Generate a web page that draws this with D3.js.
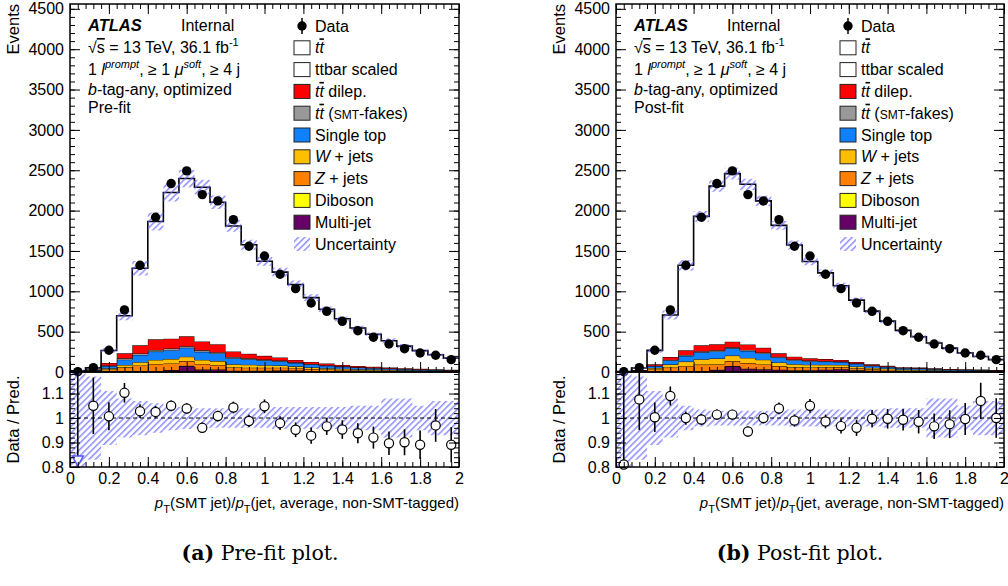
<!DOCTYPE html>
<html>
<head>
<meta charset="utf-8">
<script src="https://cdn.jsdelivr.net/npm/d3@7"></script>
<style>
  body { margin: 0; background: #fff; }
  svg text { font-family: "Liberation Sans", Arial, Helvetica, sans-serif; fill: #000; }
</style>
</head>
<body>
<svg id="chart" width="1008" height="586"></svg>
<script>
// ---------- binning: 25 bins of width 0.08 on [0, 2] ----------
const binLow = [0, 0.08, 0.16, 0.24, 0.32, 0.40, 0.48, 0.56, 0.64, 0.72, 0.80, 0.88, 0.96,
                1.04, 1.12, 1.20, 1.28, 1.36, 1.44, 1.52, 1.60, 1.68, 1.76, 1.84, 1.92];
const binWidth = 0.08;

// ---------- observed data (same in both fits) ----------
const dataCounts = [4, 54, 269, 769, 1322, 1917, 2335, 2492, 2198, 2120, 1888, 1558, 1438,
                    1211, 1033, 855, 752, 628, 512, 430, 347, 289, 236, 207, 153];

// ---------- pre-fit prediction ----------
const ttPre    = [13, 16, 155, 466, 956, 1460, 1811, 1956, 1912, 1758, 1555, 1352, 1172,
                  1057, 935, 796, 673, 571, 471, 402, 332, 273, 225, 179, 143];
const dilepPre = [0, 8, 30, 62, 100, 132, 122, 124, 110, 100, 70, 55, 45, 38, 30, 26, 22, 18, 15, 13, 11, 10, 8, 7, 6];
const fakesPre = [0, 3, 8, 16, 18, 20, 20, 17, 18, 15, 14, 12, 10, 9, 8, 7, 6, 5, 5, 4, 4, 3, 3, 2, 2];
const stopPre  = [1, 9, 28, 66, 90, 103, 110, 112, 100, 95, 75, 68, 60, 52, 42, 36, 30, 25, 21, 18, 15, 13, 11, 9, 8];
const wjetsPre = [0, 5, 15, 29, 40, 50, 55, 54, 50, 48, 40, 36, 32, 27, 22, 19, 16, 13, 11, 10, 8, 7, 6, 5, 4];
const zjetsPre = [1, 8, 24, 50, 70, 95, 80, 59, 70, 55, 40, 40, 38, 35, 28, 25, 21, 18, 15, 13, 11, 10, 8, 7, 6];
const dibPre   = [0, 0, 1, 1, 2, 2, 2, 2, 2, 2, 2, 1, 1, 1, 1, 1, 1, 1, 1, 0, 0, 0, 0, 0, 0];
const mjPre    = [0, 2, 6, 7, 10, 3, 24, 74, 28, 30, 14, 13, 14, 18, 19, 11, 9, 8, 7, 7, 6, 5, 4, 4, 3];
const ratioPre = [0.27, 1.05, 1.007, 1.103, 1.028, 1.025, 1.05, 1.039, 0.96, 1.008, 1.043, 0.988, 1.048,
                  0.979, 0.952, 0.928, 0.966, 0.953, 0.938, 0.92, 0.897, 0.901, 0.891, 0.97, 0.891];
const ratioErrPre = [1.0, 0.115, 0.057, 0.04, 0.028, 0.024, 0.022, 0.021, 0.021, 0.022, 0.024, 0.025, 0.028,
                     0.028, 0.03, 0.033, 0.035, 0.038, 0.041, 0.045, 0.048, 0.053, 0.058, 0.067, 0.072];
const uncPre   = [1.0, 0.17, 0.11, 0.08, 0.07, 0.06, 0.05, 0.045, 0.04, 0.04, 0.04, 0.04, 0.04,
                  0.045, 0.045, 0.045, 0.045, 0.045, 0.05, 0.05, 0.08, 0.08, 0.05, 0.07, 0.07];

// ---------- post-fit prediction ----------
const ttPost    = [4, 25, 173, 520, 1053, 1599, 1960, 2082, 1986, 1820, 1586, 1384, 1200,
                   1068, 918, 766, 659, 552, 456, 382, 314, 258, 204, 163, 127];
const dilepPost = [0, 4, 17, 35, 58, 72, 74, 70, 66, 58, 42, 34, 28, 24, 20, 18, 14, 11, 9, 8, 7, 6, 5, 5, 4];
const fakesPost = [0, 1, 4, 8, 12, 14, 14, 13, 13, 12, 10, 9, 8, 7, 6, 6, 5, 4, 3, 3, 3, 2, 2, 2, 2];
const stopPost  = [0, 7, 25, 50, 70, 86, 88, 90, 86, 78, 60, 50, 44, 40, 36, 32, 25, 21, 16, 15, 12, 10, 9, 8, 7];
const wjetsPost = [0, 5, 18, 36, 54, 66, 70, 68, 64, 58, 46, 38, 34, 30, 27, 23, 18, 15, 12, 11, 9, 8, 7, 6, 5];
const zjetsPost = [1, 6, 22, 45, 62, 80, 70, 60, 70, 60, 44, 38, 34, 30, 26, 22, 17, 14, 11, 10, 8, 7, 6, 5, 5];
const dibPost   = [0, 0, 1, 1, 1, 2, 2, 2, 2, 2, 2, 1, 1, 1, 1, 1, 1, 1, 1, 0, 0, 0, 0, 0, 0];
const mjPost    = [0, 2, 8, 11, 12, 10, 25, 73, 39, 32, 27, 20, 21, 28, 34, 23, 15, 12, 8, 8, 6, 5, 4, 4, 3];
const ratioPost = [0.81, 1.076, 1.003, 1.09, 1.0, 0.994, 1.014, 1.014, 0.945, 1.0, 1.039, 0.99, 1.05,
                   0.986, 0.967, 0.96, 0.997, 0.997, 0.993, 0.985, 0.966, 0.975, 0.996, 1.07, 1.0];
const ratioErrPost = [0.45, 0.125, 0.06, 0.039, 0.027, 0.023, 0.021, 0.02, 0.02, 0.022, 0.024, 0.025, 0.028,
                      0.028, 0.03, 0.033, 0.036, 0.04, 0.044, 0.048, 0.052, 0.057, 0.065, 0.074, 0.081];
const uncPost   = [1.0, 0.17, 0.11, 0.08, 0.05, 0.035, 0.03, 0.03, 0.03, 0.03, 0.03, 0.035, 0.035,
                   0.035, 0.035, 0.035, 0.035, 0.04, 0.04, 0.04, 0.08, 0.08, 0.05, 0.07, 0.07];

// ---------- axis ticks ----------
const xTicks = [0, 0.2, 0.4, 0.6, 0.8, 1, 1.2, 1.4, 1.6, 1.8, 2];
const yTicksMain = [0, 500, 1000, 1500, 2000, 2500, 3000, 3500, 4000, 4500];
const yTicksRatio = [0.8, 0.9, 1, 1.1];

// ---------- process styling (stack order bottom -> top) ----------
const processKeys   = ["mj", "dib", "zjets", "wjets", "stop", "fakes", "dilep", "tt"];
const processColors = { mj: "#660066", dib: "#ffff00", zjets: "#ff7f00", wjets: "#ffbf00",
                        stop: "#0f80ff", fakes: "#999999", dilep: "#ff0000", tt: "#ffffff" };

const svg = d3.select("#chart");
const defs = svg.append("defs");
const hatch = defs.append("pattern")
  .attr("id", "hatch").attr("patternUnits", "userSpaceOnUse")
  .attr("width", 4.5).attr("height", 4.5).attr("patternTransform", "rotate(45)");
hatch.append("line").attr("x1", 0.8).attr("y1", 0).attr("x2", 0.8).attr("y2", 4.5)
  .attr("stroke", "#6a6aff").attr("stroke-width", 1.15);

const MAIN_TOP = 4, MAIN_BOT = 372, RAT_TOP = 372, RAT_BOT = 467;

function stepPoints(vals) {
  const pts = vals.map((v, i) => ({ x: binLow[i], v }));
  pts.push({ x: binLow[binLow.length - 1] + binWidth, v: vals[vals.length - 1] });
  return pts;
}

function drawPanel(o) {
  const g = svg.append("g");
  const x = d3.scaleLinear().domain([0, 2]).range([o.x0, o.x1]);
  const y = d3.scaleLinear().domain([0, 4560]).range([MAIN_BOT, MAIN_TOP]);
  const yr = d3.scaleLinear().domain([0.8, 1.188]).range([RAT_BOT, RAT_TOP]);

  const mainClip = "clipMain" + o.id, ratClip = "clipRat" + o.id;
  defs.append("clipPath").attr("id", mainClip).append("rect")
    .attr("x", o.x0).attr("y", MAIN_TOP).attr("width", o.x1 - o.x0).attr("height", MAIN_BOT - MAIN_TOP);
  defs.append("clipPath").attr("id", ratClip).append("rect")
    .attr("x", o.x0).attr("y", RAT_TOP).attr("width", o.x1 - o.x0).attr("height", RAT_BOT - RAT_TOP);

  // ---- stacked backgrounds ----
  const rows = binLow.map((b, i) => {
    const r = {};
    processKeys.forEach(k => r[k] = o.proc[k][i]);
    return r;
  });
  const stacked = d3.stack().keys(processKeys)(rows);
  const gm = g.append("g").attr("clip-path", `url(#${mainClip})`);
  const area = d3.area().curve(d3.curveStepAfter)
    .x(d => x(d.x)).y0(d => y(d.y0)).y1(d => y(d.y1));
  const topLine = d3.line().curve(d3.curveStepAfter).x(d => x(d.x)).y(d => y(d.y1));

  stacked.forEach(layer => {
    const pts = layer.map((d, i) => ({ x: binLow[i], y0: d[0], y1: d[1] }));
    const last = pts[pts.length - 1];
    pts.push({ x: 2, y0: last.y0, y1: last.y1 });
    gm.append("path").attr("d", area(pts)).attr("fill", processColors[layer.key]);
    gm.append("path").attr("d", topLine(pts)).attr("fill", "none")
      .attr("stroke", "#000").attr("stroke-width", layer.key === "tt" ? 1.6 : 0.9);
  });

  // total prediction and its uncertainty band
  const pred = rows.map(r => d3.sum(processKeys, k => r[k]));
  const bandPts = stepPoints(pred.map((p, i) => [p * (1 - o.unc[i]), p * (1 + o.unc[i])]));
  gm.append("path")
    .attr("d", d3.area().curve(d3.curveStepAfter).x(d => x(d.x)).y0(d => y(d.v[0])).y1(d => y(d.v[1]))(bandPts))
    .attr("fill", "url(#hatch)");

  // data points
  g.append("g").selectAll("circle").data(dataCounts).join("circle")
    .attr("cx", (d, i) => x(binLow[i] + binWidth / 2)).attr("cy", d => y(d))
    .attr("r", 4.7).attr("fill", "#000");

  // ---- ratio panel ----
  const gr = g.append("g").attr("clip-path", `url(#${ratClip})`);
  const rbandPts = stepPoints(o.unc.map(e => [1 - e, 1 + e]));
  gr.append("path")
    .attr("d", d3.area().curve(d3.curveStepAfter).x(d => x(d.x)).y0(d => yr(d.v[0])).y1(d => yr(d.v[1]))(rbandPts))
    .attr("fill", "url(#hatch)");
  gr.append("line").attr("x1", o.x0).attr("x2", o.x1).attr("y1", yr(1)).attr("y2", yr(1))
    .attr("stroke", "#000").attr("stroke-width", 1).attr("stroke-dasharray", "4,3");
  gr.selectAll("line.err").data(o.ratio).join("line").attr("class", "err")
    .attr("x1", (d, i) => x(binLow[i] + binWidth / 2)).attr("x2", (d, i) => x(binLow[i] + binWidth / 2))
    .attr("y1", (d, i) => yr(d - o.ratioErr[i])).attr("y2", (d, i) => yr(d + o.ratioErr[i]))
    .attr("stroke", "#000").attr("stroke-width", 1.6);

  const inRange = o.ratio.map((d, i) => ({ d, i })).filter(p => p.d >= 0.8);
  const below = o.ratio.map((d, i) => ({ d, i })).filter(p => p.d < 0.8);
  g.append("g").selectAll("circle").data(inRange).join("circle")
    .attr("cx", p => x(binLow[p.i] + binWidth / 2)).attr("cy", p => yr(p.d))
    .attr("r", 4.6).attr("fill", "#fff").attr("stroke", "#000").attr("stroke-width", 1.2);
  // values below the ratio range are flagged with a downward triangle
  g.append("g").selectAll("path").data(below).join("path")
    .attr("d", p => {
      const cx = x(binLow[p.i] + binWidth / 2), by = RAT_BOT - 1;
      return `M${cx - 5.5},${by - 10}L${cx + 5.5},${by - 10}L${cx},${by}Z`;
    })
    .attr("fill", "#fff").attr("stroke", "#5555ff").attr("stroke-width", 1.5);

  // ---- frames and ticks ----
  const ax = g.append("g");
  function addAxis(axis, tx, ty) {
    const a = ax.append("g").attr("transform", `translate(${tx},${ty})`).call(axis);
    a.select(".domain").remove();
    a.selectAll("line").attr("stroke", "#000");
    a.selectAll("text").attr("font-size", 16).attr("font-family", "Liberation Sans, Arial, sans-serif");
    return a;
  }
  const xMinor = d3.range(0, 2.0001, 0.04);
  const yMinorMain = d3.range(0, 4560, 100);
  const yMinorRatio = d3.range(0.8, 1.19, 0.02);
  const fmtR = d3.format("~g");

  // main panel
  addAxis(d3.axisLeft(y).tickValues(yTicksMain).tickSize(-10).tickPadding(6).tickFormat(d3.format("d")), o.x0, 0);
  addAxis(d3.axisLeft(y).tickValues(yMinorMain).tickSize(-5).tickFormat(""), o.x0, 0);
  addAxis(d3.axisRight(y).tickValues(yTicksMain).tickSize(-10).tickFormat(""), o.x1, 0);
  addAxis(d3.axisRight(y).tickValues(yMinorMain).tickSize(-5).tickFormat(""), o.x1, 0);
  addAxis(d3.axisTop(x).tickValues(xTicks).tickSize(-10).tickFormat(""), 0, MAIN_TOP);
  addAxis(d3.axisTop(x).tickValues(xMinor).tickSize(-5).tickFormat(""), 0, MAIN_TOP);
  addAxis(d3.axisBottom(x).tickValues(xTicks).tickSize(-10).tickFormat(""), 0, MAIN_BOT);
  addAxis(d3.axisBottom(x).tickValues(xMinor).tickSize(-5).tickFormat(""), 0, MAIN_BOT);
  // ratio panel
  addAxis(d3.axisLeft(yr).tickValues(yTicksRatio).tickSize(-10).tickPadding(6).tickFormat(fmtR), o.x0, 0);
  addAxis(d3.axisLeft(yr).tickValues(yMinorRatio).tickSize(-5).tickFormat(""), o.x0, 0);
  addAxis(d3.axisRight(yr).tickValues(yTicksRatio).tickSize(-10).tickFormat(""), o.x1, 0);
  addAxis(d3.axisRight(yr).tickValues(yMinorRatio).tickSize(-5).tickFormat(""), o.x1, 0);
  addAxis(d3.axisBottom(x).tickValues(xTicks).tickSize(-10).tickPadding(6).tickFormat(fmtR), 0, RAT_BOT);
  addAxis(d3.axisBottom(x).tickValues(xMinor).tickSize(-5).tickFormat(""), 0, RAT_BOT);

  ax.append("rect").attr("x", o.x0).attr("y", MAIN_TOP).attr("width", o.x1 - o.x0).attr("height", MAIN_BOT - MAIN_TOP)
    .attr("fill", "none").attr("stroke", "#000").attr("stroke-width", 1.5);
  ax.append("rect").attr("x", o.x0).attr("y", RAT_TOP).attr("width", o.x1 - o.x0).attr("height", RAT_BOT - RAT_TOP)
    .attr("fill", "none").attr("stroke", "#000").attr("stroke-width", 1.5);

  // axis titles
  g.append("text").attr("transform", `translate(${o.x0 - 51},${MAIN_TOP}) rotate(-90)`)
    .attr("text-anchor", "end").attr("font-size", 16.5).text("Events");
  g.append("text").attr("transform", `translate(${o.x0 - 51},${(RAT_TOP + RAT_BOT) / 2}) rotate(-90)`)
    .attr("text-anchor", "middle").attr("font-size", 16.5).text("Data / Pred.");
  const xt = g.append("text").attr("x", o.x1).attr("y", 508).attr("text-anchor", "end").attr("font-size", 15);
  xt.append("tspan").attr("font-style", "italic").text("p");
  xt.append("tspan").attr("font-size", 11).attr("dy", 5).text("T");
  xt.append("tspan").attr("dy", -5).text("(SMT jet)/");
  xt.append("tspan").attr("font-style", "italic").text("p");
  xt.append("tspan").attr("font-size", 11).attr("dy", 5).text("T");
  xt.append("tspan").attr("dy", -5).text("(jet, average, non-SMT-tagged)");

  // ---- ATLAS label block ----
  const lx = o.x0 + 18;
  g.append("text").attr("x", lx).attr("y", 31).attr("font-size", 16.5)
    .attr("font-weight", "bold").attr("font-style", "italic").text("ATLAS");
  g.append("text").attr("x", o.x0 + 111).attr("y", 31).attr("font-size", 16).text("Internal");
  const t2 = g.append("text").attr("x", lx).attr("y", 53).attr("font-size", 16);
  t2.append("tspan").text("√");
  t2.append("tspan").attr("text-decoration", "overline").text("s");
  t2.append("tspan").text(" = 13 TeV, 36.1 fb");
  t2.append("tspan").attr("font-size", 11).attr("dy", -7).text("-1");
  const t3 = g.append("text").attr("x", lx).attr("y", 75).attr("font-size", 16);
  t3.append("tspan").text("1 ");
  t3.append("tspan").attr("font-style", "italic").text("l");
  t3.append("tspan").attr("font-style", "italic").attr("font-size", 11).attr("dy", -7).text("prompt");
  t3.append("tspan").attr("dy", 7).text(", ≥ 1 ");
  t3.append("tspan").attr("font-style", "italic").text("μ");
  t3.append("tspan").attr("font-style", "italic").attr("font-size", 11).attr("dy", -7).text("soft");
  t3.append("tspan").attr("dy", 7).text(", ≥ 4 j");
  const t4 = g.append("text").attr("x", lx).attr("y", 95).attr("font-size", 16);
  t4.append("tspan").attr("font-style", "italic").text("b");
  t4.append("tspan").text("-tag-any, optimized");
  g.append("text").attr("x", lx).attr("y", 113).attr("font-size", 16).text(o.stage);

  // ---- legend ----
  const legX = o.x0 + 224, legTextX = o.x0 + 245, legY0 = 26, legDy = 21.8;
  const entries = [
    { type: "data" },
    { type: "box", fill: "#fff", parts: [["i", "t"], ["io", "t"]] },
    { type: "box", fill: "#fff", parts: [["r", "ttbar scaled"]] },
    { type: "box", fill: processColors.dilep, parts: [["i", "t"], ["io", "t"], ["r", " dilep."]] },
    { type: "box", fill: processColors.fakes, parts: [["i", "t"], ["io", "t"], ["r", " ("], ["s", "SMT"], ["r", "-fakes)"]] },
    { type: "box", fill: processColors.stop, parts: [["r", "Single top"]] },
    { type: "box", fill: processColors.wjets, parts: [["i", "W"], ["r", " + jets"]] },
    { type: "box", fill: processColors.zjets, parts: [["i", "Z"], ["r", " + jets"]] },
    { type: "box", fill: processColors.dib, parts: [["r", "Diboson"]] },
    { type: "box", fill: processColors.mj, parts: [["r", "Multi-jet"]] },
    { type: "hatch", parts: [["r", "Uncertainty"]] }
  ];
  entries.forEach((e, i) => {
    const cy = legY0 + i * legDy;
    if (e.type === "data") {
      g.append("line").attr("x1", legX + 8).attr("x2", legX + 8).attr("y1", cy - 8).attr("y2", cy + 8)
        .attr("stroke", "#000").attr("stroke-width", 1.5);
      g.append("circle").attr("cx", legX + 8).attr("cy", cy).attr("r", 4.7).attr("fill", "#000");
      g.append("text").attr("x", legTextX).attr("y", cy + 5.5).attr("font-size", 16).text("Data");
      return;
    }
    if (e.type === "box") {
      g.append("rect").attr("x", legX).attr("y", cy - 7).attr("width", 16).attr("height", 14)
        .attr("fill", e.fill).attr("stroke", "#222").attr("stroke-width", 1);
    } else {
      g.append("rect").attr("x", legX).attr("y", cy - 7).attr("width", 16).attr("height", 14)
        .attr("fill", "url(#hatch)");
    }
    const t = g.append("text").attr("x", legTextX).attr("y", cy + 5.5).attr("font-size", 16);
    e.parts.forEach(([s, txt]) => {
      const ts = t.append("tspan").text(txt);
      if (s === "i" || s === "io") ts.attr("font-style", "italic");
      if (s === "io") ts.attr("text-decoration", "overline");
      if (s === "s") ts.attr("font-size", 12);
    });
  });

  // caption
  const cap = svg.append("text").attr("x", o.capX).attr("y", 560).attr("text-anchor", "middle")
    .attr("font-size", 20.5).style("font-family", "'DejaVu Serif', serif");
  cap.append("tspan").attr("font-weight", "bold").text(o.capTag);
  cap.append("tspan").text(" " + o.capText);
}

drawPanel({
  id: "A", x0: 70, x1: 459, stage: "Pre-fit",
  proc: { mj: mjPre, dib: dibPre, zjets: zjetsPre, wjets: wjetsPre, stop: stopPre,
          fakes: fakesPre, dilep: dilepPre, tt: ttPre },
  ratio: ratioPre, ratioErr: ratioErrPre, unc: uncPre,
  capX: 260, capTag: "(a)", capText: "Pre-fit plot."
});
drawPanel({
  id: "B", x0: 616, x1: 1004, stage: "Post-fit",
  proc: { mj: mjPost, dib: dibPost, zjets: zjetsPost, wjets: wjetsPost, stop: stopPost,
          fakes: fakesPost, dilep: dilepPost, tt: ttPost },
  ratio: ratioPost, ratioErr: ratioErrPost, unc: uncPost,
  capX: 800, capTag: "(b)", capText: "Post-fit plot."
});
</script>
</body>
</html>
